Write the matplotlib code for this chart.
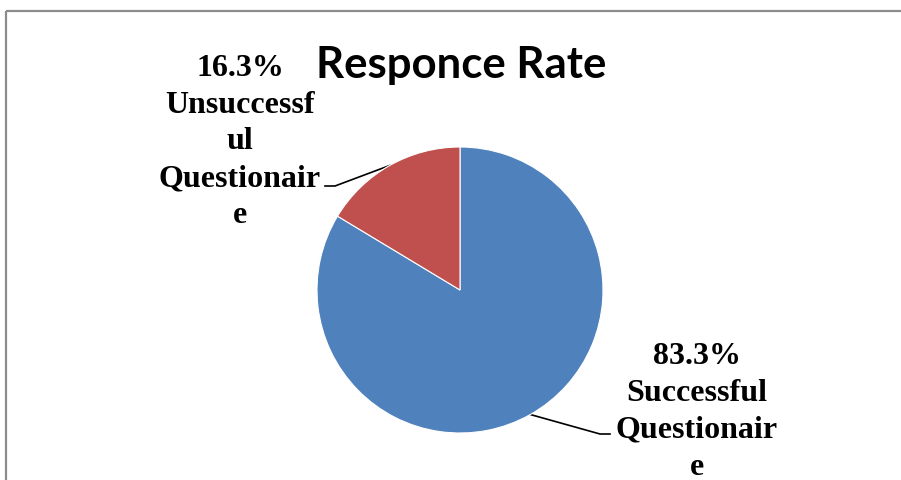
import numpy as np
import matplotlib
matplotlib.use("Agg")
import matplotlib.pyplot as plt

# dati del grafico
categories = ["Successful\nQuestionair\ne", "Unsuccessf\nul\nQuestionair\ne"]
values = [83.3, 16.3]
colors = ["#4F81BD", "#C0504D"]
title = "Responce Rate"

W, H = 901, 481
fig = plt.figure(figsize=(W / 100, H / 100), dpi=100)

# overlay in pixel coordinates (origin top-left)
ov = fig.add_axes([0, 0, 1, 1])
ov.set_xlim(0, W)
ov.set_ylim(H, 0)
ov.axis("off")

# chart border (cut at right/bottom)
ov.plot([6, W + 5], [12, 12], color="#8c8c8c", lw=1.6, solid_capstyle="butt")
ov.plot([6, 6], [12, H + 5], color="#8c8c8c", lw=1.6, solid_capstyle="butt")

# pie
cx, cy, r = 460, 291, 143
ax = fig.add_axes([(cx - r) / W, (H - cy - r) / H, 2 * r / W, 2 * r / H])
wedges, _ = ax.pie(values, colors=colors, startangle=90, counterclock=False,
                   wedgeprops=dict(edgecolor="white", linewidth=0.8))
ax.set_xlim(-1, 1)
ax.set_ylim(-1, 1)
ax.set_aspect("auto")
ax.axis("off")

ov.text(461, 65, title, ha="center", va="center", fontsize=31.5,
        fontweight="bold", family="Lato")

# etichette con linee guida
label_pos = [(697, 412), (240, 142)]
elbows = [[(600, 435), (610, 435)], [(335, 187), (325, 187)]]
for w, cat, val, (lx, ly), el in zip(wedges, categories, values, label_pos, elbows):
    ang = np.deg2rad((w.theta1 + w.theta2) / 2)
    sx, sy = cx + r * np.cos(ang), cy - r * np.sin(ang)
    xs = [sx] + [p[0] for p in el]
    ys = [sy] + [p[1] for p in el]
    ov.plot(xs, ys, color="black", lw=1.2)
    ov.text(lx, ly, f"{val:.1f}%\n{cat}", ha="center", va="center",
            fontsize=23, fontweight="bold", family="Liberation Serif",
            linespacing=1.35)

fig.savefig("out.png", dpi=100)
